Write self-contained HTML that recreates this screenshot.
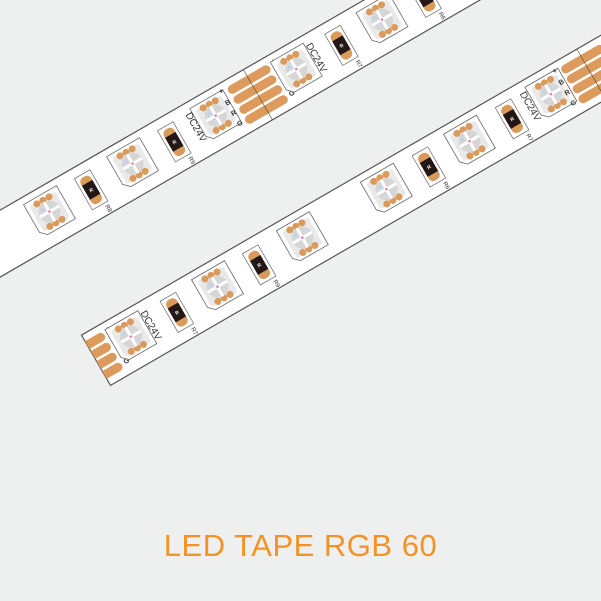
<!DOCTYPE html>
<html><head><meta charset="utf-8"><style>
html,body{margin:0;padding:0;background:#eeefef;width:601px;height:601px;overflow:hidden;}
svg{display:block}
text{font-family:"Liberation Sans",sans-serif}
</style></head><body>
<svg width="601" height="601" viewBox="0 0 601 601" xmlns="http://www.w3.org/2000/svg">
<rect width="601" height="601" fill="#eeefef"/>
<defs>
<clipPath id="cu"><rect x="-700" y="182" width="1700" height="58"/></clipPath>
<clipPath id="cl"><rect x="-97" y="331" width="1100" height="58"/></clipPath>
</defs>
<g transform="rotate(-30)">
<rect x="-700" y="182" width="1700" height="58" fill="#fff" stroke="#555" stroke-width="1.2"/>
<g clip-path="url(#cu)">
<g transform="translate(-400,182)" fill="none">
 <g fill="#dc9a5c"><rect x="-24" y="7" width="48" height="9" rx="4.5"/><rect x="-24" y="18.5" width="48" height="9" rx="4.5"/><rect x="-24" y="30" width="48" height="9" rx="4.5"/><rect x="-24" y="41.5" width="48" height="9" rx="4.5"/></g>
 <line x1="0" y1="0" x2="0" y2="58" stroke="#444" stroke-width=".6"/>
 <g font-size="7" font-weight="bold" fill="#333" text-anchor="middle"><text x="-30" y="10">+</text><text x="-30" y="23">B</text><text x="-30" y="35">R</text><text x="-30" y="47">G</text><text x="30" y="10">+</text><text x="30" y="23">B</text><text x="30" y="35">R</text><text x="30" y="47">G</text></g>
 <g transform="translate(337,26)"><path d="M-19,-19H19V19H-13L-19,13Z" fill="#fff" stroke="#666" stroke-width=".8"/><rect x="-15" y="-15" width="30" height="30" rx="3" fill="#e9e9e9"/><g fill="#d99a5b"><circle cx="-7" cy="-13" r="3.5"/><circle cx="0" cy="-13" r="3.5"/><circle cx="7" cy="-13" r="3.5"/><circle cx="-7" cy="13" r="3.5"/><circle cx="0" cy="13" r="3.5"/><circle cx="7" cy="13" r="3.5"/></g><circle r="11" fill="#d6d6d6"/><path d="M-11 0H11M0-11V11" stroke="#fff" stroke-width="3"/><circle r="1.3" fill="#e07fb0"/><circle cx="-5" cy="-5" r="1.6" fill="#b9d3ee"/></g>
 <g transform="translate(433,26)"><path d="M-19,-19H19V19H-13L-19,13Z" fill="#fff" stroke="#666" stroke-width=".8"/><rect x="-15" y="-15" width="30" height="30" rx="3" fill="#e9e9e9"/><g fill="#d99a5b"><circle cx="-7" cy="-13" r="3.5"/><circle cx="0" cy="-13" r="3.5"/><circle cx="7" cy="-13" r="3.5"/><circle cx="-7" cy="13" r="3.5"/><circle cx="0" cy="13" r="3.5"/><circle cx="7" cy="13" r="3.5"/></g><circle r="11" fill="#d6d6d6"/><path d="M-11 0H11M0-11V11" stroke="#fff" stroke-width="3"/><circle r="1.3" fill="#e07fb0"/><circle cx="-5" cy="-5" r="1.6" fill="#b9d3ee"/></g>
 <g transform="translate(529,26)"><path d="M-19,-19H19V19H-13L-19,13Z" fill="#fff" stroke="#666" stroke-width=".8"/><rect x="-15" y="-15" width="30" height="30" rx="3" fill="#e9e9e9"/><g fill="#d99a5b"><circle cx="-7" cy="-13" r="3.5"/><circle cx="0" cy="-13" r="3.5"/><circle cx="7" cy="-13" r="3.5"/><circle cx="-7" cy="13" r="3.5"/><circle cx="0" cy="13" r="3.5"/><circle cx="7" cy="13" r="3.5"/></g><circle r="11" fill="#d6d6d6"/><path d="M-11 0H11M0-11V11" stroke="#fff" stroke-width="3"/><circle r="1.3" fill="#e07fb0"/><circle cx="-5" cy="-5" r="1.6" fill="#b9d3ee"/></g>
 <g transform="translate(384,28)"><rect x="-9" y="-18" width="18" height="36" fill="none" stroke="#666" stroke-width=".7"/><rect x="-6" y="-15" width="12" height="30" rx="5" fill="#d99a5b"/><rect x="-6" y="-8" width="12" height="16" fill="#231815"/><text x="0" y="2" font-size="5" font-weight="bold" fill="#fff" text-anchor="middle">R</text><text transform="translate(4,21) rotate(90)" font-size="6" fill="#333">R8</text></g>
 <g transform="translate(480,28)"><rect x="-9" y="-18" width="18" height="36" fill="none" stroke="#666" stroke-width=".7"/><rect x="-6" y="-15" width="12" height="30" rx="5" fill="#d99a5b"/><rect x="-6" y="-8" width="12" height="16" fill="#231815"/><text x="0" y="2" font-size="5" font-weight="bold" fill="#fff" text-anchor="middle">R</text><text transform="translate(4,21) rotate(90)" font-size="6" fill="#333">R9</text></g>
 <text transform="translate(503,10) rotate(90)" font-size="10" fill="#333">DC24V</text>
</g>
<g transform="translate(176,182)" fill="none">
 <g fill="#dc9a5c"><rect x="-24" y="7" width="48" height="9" rx="4.5"/><rect x="-24" y="18.5" width="48" height="9" rx="4.5"/><rect x="-24" y="30" width="48" height="9" rx="4.5"/><rect x="-24" y="41.5" width="48" height="9" rx="4.5"/></g>
 <line x1="0" y1="0" x2="0" y2="58" stroke="#444" stroke-width=".6"/>
 <g font-size="7" font-weight="bold" fill="#333" text-anchor="middle"><text x="-30" y="10">+</text><text x="-30" y="23">B</text><text x="-30" y="35">R</text><text x="-30" y="47">G</text><text x="30" y="10">+</text><text x="30" y="23">B</text><text x="30" y="35">R</text><text x="30" y="47">G</text></g>
 <g transform="translate(46,26)"><path d="M-19,-19H19V19H-13L-19,13Z" fill="#fff" stroke="#666" stroke-width=".8"/><rect x="-15" y="-15" width="30" height="30" rx="3" fill="#e9e9e9"/><g fill="#d99a5b"><circle cx="-7" cy="-13" r="3.5"/><circle cx="0" cy="-13" r="3.5"/><circle cx="7" cy="-13" r="3.5"/><circle cx="-7" cy="13" r="3.5"/><circle cx="0" cy="13" r="3.5"/><circle cx="7" cy="13" r="3.5"/></g><circle r="11" fill="#d6d6d6"/><path d="M-11 0H11M0-11V11" stroke="#fff" stroke-width="3"/><circle r="1.3" fill="#e07fb0"/><circle cx="-5" cy="-5" r="1.6" fill="#b9d3ee"/></g>
 <g transform="translate(145,26)"><path d="M-19,-19H19V19H-13L-19,13Z" fill="#fff" stroke="#666" stroke-width=".8"/><rect x="-15" y="-15" width="30" height="30" rx="3" fill="#e9e9e9"/><g fill="#d99a5b"><circle cx="-7" cy="-13" r="3.5"/><circle cx="0" cy="-13" r="3.5"/><circle cx="7" cy="-13" r="3.5"/><circle cx="-7" cy="13" r="3.5"/><circle cx="0" cy="13" r="3.5"/><circle cx="7" cy="13" r="3.5"/></g><circle r="11" fill="#d6d6d6"/><path d="M-11 0H11M0-11V11" stroke="#fff" stroke-width="3"/><circle r="1.3" fill="#e07fb0"/><circle cx="-5" cy="-5" r="1.6" fill="#b9d3ee"/></g>
 <g transform="translate(243,26)"><path d="M-19,-19H19V19H-13L-19,13Z" fill="#fff" stroke="#666" stroke-width=".8"/><rect x="-15" y="-15" width="30" height="30" rx="3" fill="#e9e9e9"/><g fill="#d99a5b"><circle cx="-7" cy="-13" r="3.5"/><circle cx="0" cy="-13" r="3.5"/><circle cx="7" cy="-13" r="3.5"/><circle cx="-7" cy="13" r="3.5"/><circle cx="0" cy="13" r="3.5"/><circle cx="7" cy="13" r="3.5"/></g><circle r="11" fill="#d6d6d6"/><path d="M-11 0H11M0-11V11" stroke="#fff" stroke-width="3"/><circle r="1.3" fill="#e07fb0"/><circle cx="-5" cy="-5" r="1.6" fill="#b9d3ee"/></g>
 <g transform="translate(97,28)"><rect x="-9" y="-18" width="18" height="36" fill="none" stroke="#666" stroke-width=".7"/><rect x="-6" y="-15" width="12" height="30" rx="5" fill="#d99a5b"/><rect x="-6" y="-8" width="12" height="16" fill="#231815"/><text x="0" y="2" font-size="5" font-weight="bold" fill="#fff" text-anchor="middle">R</text><text transform="translate(4,21) rotate(90)" font-size="6" fill="#333">R7</text></g>
 <g transform="translate(193,28)"><rect x="-9" y="-18" width="18" height="36" fill="none" stroke="#666" stroke-width=".7"/><rect x="-6" y="-15" width="12" height="30" rx="5" fill="#d99a5b"/><rect x="-6" y="-8" width="12" height="16" fill="#231815"/><text x="0" y="2" font-size="5" font-weight="bold" fill="#fff" text-anchor="middle">R</text><text transform="translate(4,21) rotate(90)" font-size="6" fill="#333">R6</text></g>
 <text transform="translate(66,10) rotate(90)" font-size="10" fill="#333">DC24V</text>
</g>
</g>

<rect x="-97" y="331" width="1100" height="58" fill="#fff" stroke="#555" stroke-width="1.2"/>
<g clip-path="url(#cl)">
<g transform="translate(-101,331)" fill="none">
 <g fill="#dc9a5c"><rect x="-24" y="7" width="48" height="9" rx="4.5"/><rect x="-24" y="18.5" width="48" height="9" rx="4.5"/><rect x="-24" y="30" width="48" height="9" rx="4.5"/><rect x="-24" y="41.5" width="48" height="9" rx="4.5"/></g>
 <g font-size="7" font-weight="bold" fill="#333" text-anchor="middle"><text x="30" y="10">+</text><text x="30" y="23">B</text><text x="30" y="35">R</text><text x="30" y="47">G</text></g>
 <g transform="translate(46,26)"><path d="M-19,-19H19V19H-13L-19,13Z" fill="#fff" stroke="#666" stroke-width=".8"/><rect x="-15" y="-15" width="30" height="30" rx="3" fill="#e9e9e9"/><g fill="#d99a5b"><circle cx="-7" cy="-13" r="3.5"/><circle cx="0" cy="-13" r="3.5"/><circle cx="7" cy="-13" r="3.5"/><circle cx="-7" cy="13" r="3.5"/><circle cx="0" cy="13" r="3.5"/><circle cx="7" cy="13" r="3.5"/></g><circle r="11" fill="#d6d6d6"/><path d="M-11 0H11M0-11V11" stroke="#fff" stroke-width="3"/><circle r="1.3" fill="#e07fb0"/><circle cx="-5" cy="-5" r="1.6" fill="#b9d3ee"/></g>
 <g transform="translate(146,26)"><path d="M-19,-19H19V19H-13L-19,13Z" fill="#fff" stroke="#666" stroke-width=".8"/><rect x="-15" y="-15" width="30" height="30" rx="3" fill="#e9e9e9"/><g fill="#d99a5b"><circle cx="-7" cy="-13" r="3.5"/><circle cx="0" cy="-13" r="3.5"/><circle cx="7" cy="-13" r="3.5"/><circle cx="-7" cy="13" r="3.5"/><circle cx="0" cy="13" r="3.5"/><circle cx="7" cy="13" r="3.5"/></g><circle r="11" fill="#d6d6d6"/><path d="M-11 0H11M0-11V11" stroke="#fff" stroke-width="3"/><circle r="1.3" fill="#e07fb0"/><circle cx="-5" cy="-5" r="1.6" fill="#b9d3ee"/></g>
 <g transform="translate(244,26)"><path d="M-19,-19H19V19H-13L-19,13Z" fill="#fff" stroke="#666" stroke-width=".8"/><rect x="-15" y="-15" width="30" height="30" rx="3" fill="#e9e9e9"/><g fill="#d99a5b"><circle cx="-7" cy="-13" r="3.5"/><circle cx="0" cy="-13" r="3.5"/><circle cx="7" cy="-13" r="3.5"/><circle cx="-7" cy="13" r="3.5"/><circle cx="0" cy="13" r="3.5"/><circle cx="7" cy="13" r="3.5"/></g><circle r="11" fill="#d6d6d6"/><path d="M-11 0H11M0-11V11" stroke="#fff" stroke-width="3"/><circle r="1.3" fill="#e07fb0"/><circle cx="-5" cy="-5" r="1.6" fill="#b9d3ee"/></g>
 <g transform="translate(341,26)"><path d="M-19,-19H19V19H-13L-19,13Z" fill="#fff" stroke="#666" stroke-width=".8"/><rect x="-15" y="-15" width="30" height="30" rx="3" fill="#e9e9e9"/><g fill="#d99a5b"><circle cx="-7" cy="-13" r="3.5"/><circle cx="0" cy="-13" r="3.5"/><circle cx="7" cy="-13" r="3.5"/><circle cx="-7" cy="13" r="3.5"/><circle cx="0" cy="13" r="3.5"/><circle cx="7" cy="13" r="3.5"/></g><circle r="11" fill="#d6d6d6"/><path d="M-11 0H11M0-11V11" stroke="#fff" stroke-width="3"/><circle r="1.3" fill="#e07fb0"/><circle cx="-5" cy="-5" r="1.6" fill="#b9d3ee"/></g>
 <g transform="translate(437,26)"><path d="M-19,-19H19V19H-13L-19,13Z" fill="#fff" stroke="#666" stroke-width=".8"/><rect x="-15" y="-15" width="30" height="30" rx="3" fill="#e9e9e9"/><g fill="#d99a5b"><circle cx="-7" cy="-13" r="3.5"/><circle cx="0" cy="-13" r="3.5"/><circle cx="7" cy="-13" r="3.5"/><circle cx="-7" cy="13" r="3.5"/><circle cx="0" cy="13" r="3.5"/><circle cx="7" cy="13" r="3.5"/></g><circle r="11" fill="#d6d6d6"/><path d="M-11 0H11M0-11V11" stroke="#fff" stroke-width="3"/><circle r="1.3" fill="#e07fb0"/><circle cx="-5" cy="-5" r="1.6" fill="#b9d3ee"/></g>
 <g transform="translate(531,26)"><path d="M-19,-19H19V19H-13L-19,13Z" fill="#fff" stroke="#666" stroke-width=".8"/><rect x="-15" y="-15" width="30" height="30" rx="3" fill="#e9e9e9"/><g fill="#d99a5b"><circle cx="-7" cy="-13" r="3.5"/><circle cx="0" cy="-13" r="3.5"/><circle cx="7" cy="-13" r="3.5"/><circle cx="-7" cy="13" r="3.5"/><circle cx="0" cy="13" r="3.5"/><circle cx="7" cy="13" r="3.5"/></g><circle r="11" fill="#d6d6d6"/><path d="M-11 0H11M0-11V11" stroke="#fff" stroke-width="3"/><circle r="1.3" fill="#e07fb0"/><circle cx="-5" cy="-5" r="1.6" fill="#b9d3ee"/></g>
 <g transform="translate(98,28)"><rect x="-9" y="-18" width="18" height="36" fill="none" stroke="#666" stroke-width=".7"/><rect x="-6" y="-15" width="12" height="30" rx="5" fill="#d99a5b"/><rect x="-6" y="-8" width="12" height="16" fill="#231815"/><text x="0" y="2" font-size="5" font-weight="bold" fill="#fff" text-anchor="middle">R</text><text transform="translate(4,21) rotate(90)" font-size="6" fill="#333">R7</text></g>
 <g transform="translate(193,28)"><rect x="-9" y="-18" width="18" height="36" fill="none" stroke="#666" stroke-width=".7"/><rect x="-6" y="-15" width="12" height="30" rx="5" fill="#d99a5b"/><rect x="-6" y="-8" width="12" height="16" fill="#231815"/><text x="0" y="2" font-size="5" font-weight="bold" fill="#fff" text-anchor="middle">R</text><text transform="translate(4,21) rotate(90)" font-size="6" fill="#333">R9</text></g>
 <g transform="translate(389,28)"><rect x="-9" y="-18" width="18" height="36" fill="none" stroke="#666" stroke-width=".7"/><rect x="-6" y="-15" width="12" height="30" rx="5" fill="#d99a5b"/><rect x="-6" y="-8" width="12" height="16" fill="#231815"/><text x="0" y="2" font-size="5" font-weight="bold" fill="#fff" text-anchor="middle">R</text><text transform="translate(4,21) rotate(90)" font-size="6" fill="#333">R6</text></g>
 <g transform="translate(485,28)"><rect x="-9" y="-18" width="18" height="36" fill="none" stroke="#666" stroke-width=".7"/><rect x="-6" y="-15" width="12" height="30" rx="5" fill="#d99a5b"/><rect x="-6" y="-8" width="12" height="16" fill="#231815"/><text x="0" y="2" font-size="5" font-weight="bold" fill="#fff" text-anchor="middle">R</text><text transform="translate(4,21) rotate(90)" font-size="6" fill="#333">R7</text></g>
 <text transform="translate(66,10) rotate(90)" font-size="10" fill="#333">DC24V</text>
 <text transform="translate(504,10) rotate(90)" font-size="10" fill="#333">DC24V</text>
</g>
<g transform="translate(475,331)">
 <g fill="#dc9a5c"><rect x="-24" y="7" width="48" height="9" rx="4.5"/><rect x="-24" y="18.5" width="48" height="9" rx="4.5"/><rect x="-24" y="30" width="48" height="9" rx="4.5"/><rect x="-24" y="41.5" width="48" height="9" rx="4.5"/></g>
 <line x1="0" y1="0" x2="0" y2="58" stroke="#444" stroke-width=".6"/>
 <g font-size="7" font-weight="bold" fill="#333" text-anchor="middle"><text x="-30" y="10">+</text><text x="-30" y="23">B</text><text x="-30" y="35">R</text><text x="-30" y="47">G</text></g>
</g>
</g>
</g>
<text x="300.5" y="556" font-size="31" fill="#f39325" text-anchor="middle" letter-spacing="0.5">LED TAPE RGB 60</text>
</svg>
</body></html>
